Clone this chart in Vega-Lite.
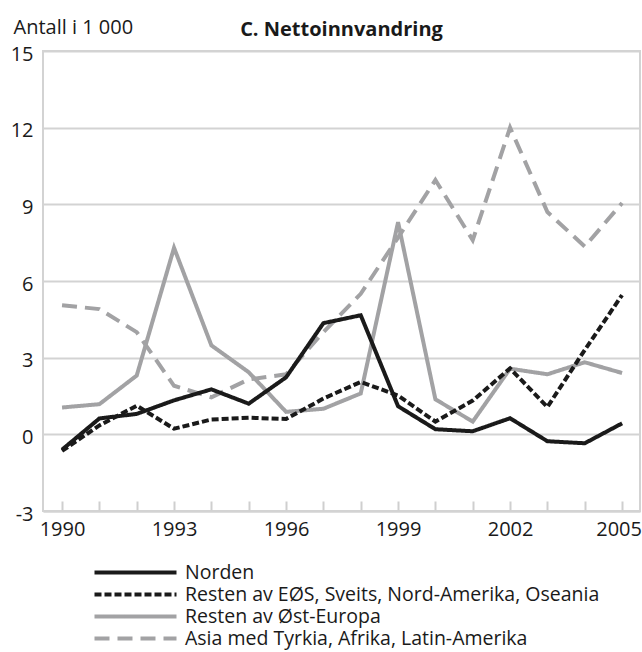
{
  "$schema": "https://vega.github.io/schema/vega-lite/v6.json",
  "width": 597,
  "height": 460,
  "autosize": "none",
  "padding": {"left": 43, "top": 51, "right": 2, "bottom": 141},
  "background": "white",
  "config": {
    "font": "Open Sans",
    "view": {"stroke": "#d3d3d3", "strokeWidth": 2}
  },
  "title": {
    "text": "C. Nettoinnvandring",
    "anchor": "middle",
    "fontSize": 20,
    "fontWeight": "bold",
    "color": "#1a1a1a",
    "baseline": "alphabetic",
    "offset": -39
  },
  "data": {
    "values": [
      {"year": 1990, "series": "Asia med Tyrkia, Afrika, Latin-Amerika", "value": 5.05},
      {"year": 1991, "series": "Asia med Tyrkia, Afrika, Latin-Amerika", "value": 4.9},
      {"year": 1992, "series": "Asia med Tyrkia, Afrika, Latin-Amerika", "value": 4.0},
      {"year": 1993, "series": "Asia med Tyrkia, Afrika, Latin-Amerika", "value": 1.9},
      {"year": 1994, "series": "Asia med Tyrkia, Afrika, Latin-Amerika", "value": 1.45},
      {"year": 1995, "series": "Asia med Tyrkia, Afrika, Latin-Amerika", "value": 2.15},
      {"year": 1996, "series": "Asia med Tyrkia, Afrika, Latin-Amerika", "value": 2.35},
      {"year": 1997, "series": "Asia med Tyrkia, Afrika, Latin-Amerika", "value": 4.0},
      {"year": 1998, "series": "Asia med Tyrkia, Afrika, Latin-Amerika", "value": 5.5},
      {"year": 1999, "series": "Asia med Tyrkia, Afrika, Latin-Amerika", "value": 7.7},
      {"year": 2000, "series": "Asia med Tyrkia, Afrika, Latin-Amerika", "value": 9.95},
      {"year": 2001, "series": "Asia med Tyrkia, Afrika, Latin-Amerika", "value": 7.6},
      {"year": 2002, "series": "Asia med Tyrkia, Afrika, Latin-Amerika", "value": 12.0},
      {"year": 2003, "series": "Asia med Tyrkia, Afrika, Latin-Amerika", "value": 8.7},
      {"year": 2004, "series": "Asia med Tyrkia, Afrika, Latin-Amerika", "value": 7.35},
      {"year": 2005, "series": "Asia med Tyrkia, Afrika, Latin-Amerika", "value": 9.05},
      {"year": 1990, "series": "Resten av Øst-Europa", "value": 1.05},
      {"year": 1991, "series": "Resten av Øst-Europa", "value": 1.18},
      {"year": 1992, "series": "Resten av Øst-Europa", "value": 2.3},
      {"year": 1993, "series": "Resten av Øst-Europa", "value": 7.3},
      {"year": 1994, "series": "Resten av Øst-Europa", "value": 3.48},
      {"year": 1995, "series": "Resten av Øst-Europa", "value": 2.43},
      {"year": 1996, "series": "Resten av Øst-Europa", "value": 0.88},
      {"year": 1997, "series": "Resten av Øst-Europa", "value": 1.0},
      {"year": 1998, "series": "Resten av Øst-Europa", "value": 1.6},
      {"year": 1999, "series": "Resten av Øst-Europa", "value": 8.3},
      {"year": 2000, "series": "Resten av Øst-Europa", "value": 1.37},
      {"year": 2001, "series": "Resten av Øst-Europa", "value": 0.5},
      {"year": 2002, "series": "Resten av Øst-Europa", "value": 2.57},
      {"year": 2003, "series": "Resten av Øst-Europa", "value": 2.35},
      {"year": 2004, "series": "Resten av Øst-Europa", "value": 2.82},
      {"year": 2005, "series": "Resten av Øst-Europa", "value": 2.4},
      {"year": 1990, "series": "Resten av EØS, Sveits, Nord-Amerika, Oseania", "value": -0.65},
      {"year": 1991, "series": "Resten av EØS, Sveits, Nord-Amerika, Oseania", "value": 0.35},
      {"year": 1992, "series": "Resten av EØS, Sveits, Nord-Amerika, Oseania", "value": 1.12},
      {"year": 1993, "series": "Resten av EØS, Sveits, Nord-Amerika, Oseania", "value": 0.22},
      {"year": 1994, "series": "Resten av EØS, Sveits, Nord-Amerika, Oseania", "value": 0.58},
      {"year": 1995, "series": "Resten av EØS, Sveits, Nord-Amerika, Oseania", "value": 0.65},
      {"year": 1996, "series": "Resten av EØS, Sveits, Nord-Amerika, Oseania", "value": 0.6},
      {"year": 1997, "series": "Resten av EØS, Sveits, Nord-Amerika, Oseania", "value": 1.4},
      {"year": 1998, "series": "Resten av EØS, Sveits, Nord-Amerika, Oseania", "value": 2.05},
      {"year": 1999, "series": "Resten av EØS, Sveits, Nord-Amerika, Oseania", "value": 1.52},
      {"year": 2000, "series": "Resten av EØS, Sveits, Nord-Amerika, Oseania", "value": 0.5},
      {"year": 2001, "series": "Resten av EØS, Sveits, Nord-Amerika, Oseania", "value": 1.32},
      {"year": 2002, "series": "Resten av EØS, Sveits, Nord-Amerika, Oseania", "value": 2.58},
      {"year": 2003, "series": "Resten av EØS, Sveits, Nord-Amerika, Oseania", "value": 1.07},
      {"year": 2004, "series": "Resten av EØS, Sveits, Nord-Amerika, Oseania", "value": 3.3},
      {"year": 2005, "series": "Resten av EØS, Sveits, Nord-Amerika, Oseania", "value": 5.45},
      {"year": 1990, "series": "Norden", "value": -0.6},
      {"year": 1991, "series": "Norden", "value": 0.62},
      {"year": 1992, "series": "Norden", "value": 0.8},
      {"year": 1993, "series": "Norden", "value": 1.33},
      {"year": 1994, "series": "Norden", "value": 1.76},
      {"year": 1995, "series": "Norden", "value": 1.2},
      {"year": 1996, "series": "Norden", "value": 2.23},
      {"year": 1997, "series": "Norden", "value": 4.35},
      {"year": 1998, "series": "Norden", "value": 4.66},
      {"year": 1999, "series": "Norden", "value": 1.1},
      {"year": 2000, "series": "Norden", "value": 0.2},
      {"year": 2001, "series": "Norden", "value": 0.12},
      {"year": 2002, "series": "Norden", "value": 0.63},
      {"year": 2003, "series": "Norden", "value": -0.27},
      {"year": 2004, "series": "Norden", "value": -0.35},
      {"year": 2005, "series": "Norden", "value": 0.43}
    ]
  },
  "mark": {"type": "line", "strokeWidth": 4, "clip": true},
  "encoding": {
    "x": {
      "field": "year",
      "type": "quantitative",
      "scale": {"domain": [1989.49, 2005.48], "nice": false, "zero": false},
      "axis": {
        "title": null,
        "values": [1990, 1991, 1992, 1993, 1994, 1995, 1996, 1997, 1998, 1999, 2000, 2001, 2002, 2003, 2004, 2005],
        "labelExpr": "(datum.value - 1990) % 3 == 0 ? (datum.value == 2005 ? '2005¹' : '' + datum.value) : ''",
        "grid": false,
        "tickSize": -10,
        "tickWidth": 2,
        "tickColor": "#cfcfcf",
        "domainColor": "#d3d3d3",
        "domainWidth": 2,
        "labelPadding": 18,
        "labelFontSize": 20,
        "labelColor": "#1a1a1a",
        "labelFlush": false,
        "labelOverlap": false,
        "labelBound": false
      }
    },
    "y": {
      "field": "value",
      "type": "quantitative",
      "scale": {"domain": [-3, 15], "nice": false, "zero": false},
      "axis": {
        "title": "Antall i 1 000",
        "titleAngle": 0,
        "titleX": -30,
        "titleY": -18,
        "titleAlign": "left",
        "titleBaseline": "alphabetic",
        "titleFontWeight": "normal",
        "titleFontSize": 20,
        "titleColor": "#1a1a1a",
        "values": [-3, 0, 3, 6, 9, 12, 15],
        "labelExpr": "'' + datum.value",
        "grid": true,
        "gridColor": "#d3d3d3",
        "gridWidth": 2,
        "domain": false,
        "ticks": false,
        "labelPadding": 10,
        "labelOffset": 3,
        "labelFontSize": 20,
        "labelColor": "#1a1a1a"
      }
    },
    "color": {
      "field": "series",
      "type": "nominal",
      "scale": {
        "domain": ["Norden", "Resten av EØS, Sveits, Nord-Amerika, Oseania", "Resten av Øst-Europa", "Asia med Tyrkia, Afrika, Latin-Amerika"],
        "range": ["#1a1a1a", "#1a1a1a", "#a2a2a4", "#a2a2a4"]
      },
      "legend": {
        "title": null,
        "orient": "none",
        "legendX": 82,
        "legendY": 511,
        "symbolType": "M-5,0L5,0",
        "symbolSize": 269,
        "symbolStrokeWidth": 4,
        "labelFontSize": 19.5,
        "labelColor": "#1a1a1a",
        "labelOffset": 39,
        "rowPadding": 2,
        "labelLimit": 600
      }
    },
    "strokeDash": {
      "field": "series",
      "type": "nominal",
      "scale": {
        "domain": ["Norden", "Resten av EØS, Sveits, Nord-Amerika, Oseania", "Resten av Øst-Europa", "Asia med Tyrkia, Afrika, Latin-Amerika"],
        "range": [[1, 0], [7, 3], [1, 0], [15, 8]]
      },
      "legend": {
        "title": null,
        "orient": "none",
        "legendX": 82,
        "legendY": 511,
        "symbolType": "M-5,0L5,0",
        "symbolSize": 269,
        "symbolStrokeWidth": 4,
        "labelFontSize": 19.5,
        "labelColor": "#1a1a1a",
        "labelOffset": 39,
        "rowPadding": 2,
        "labelLimit": 600
      }
    }
  }
}
